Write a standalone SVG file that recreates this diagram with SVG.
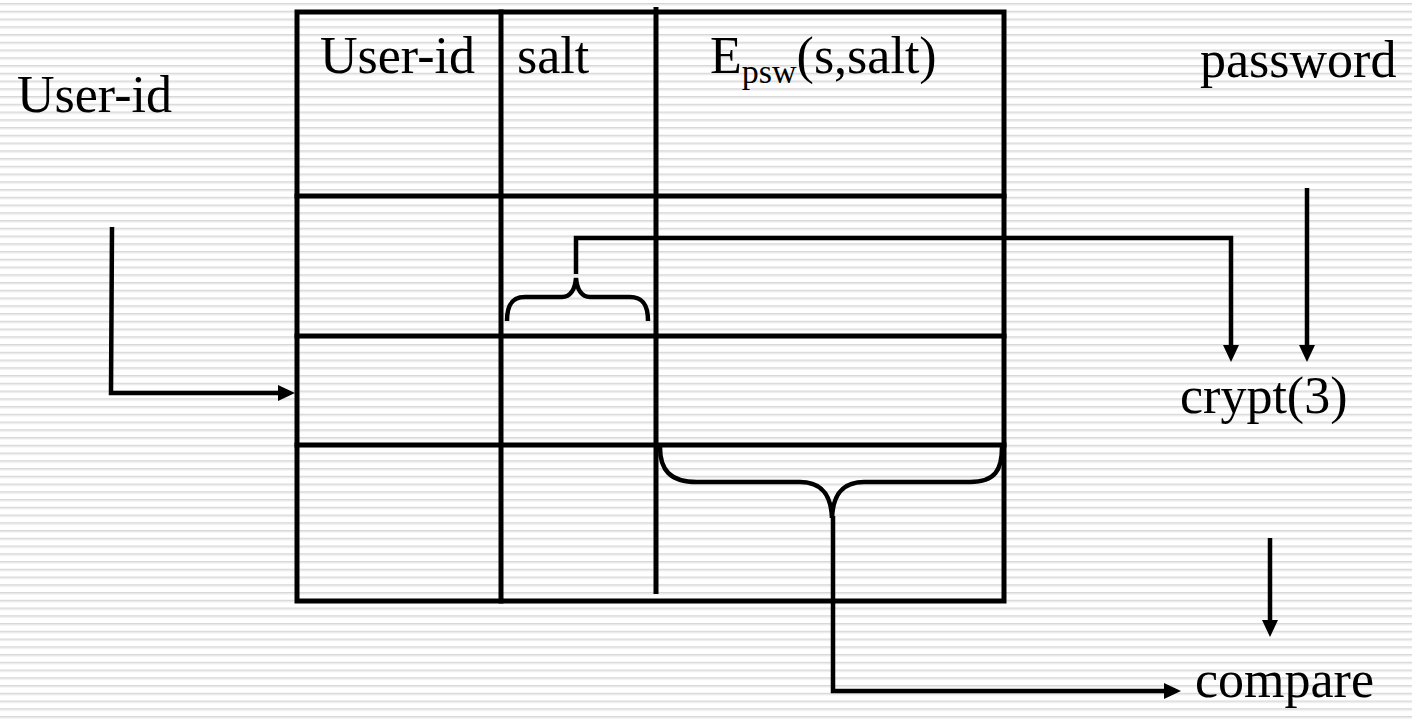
<svg xmlns="http://www.w3.org/2000/svg" width="1412" height="719" viewBox="0 0 1412 719">
  <defs>
    <!-- faint horizontal ruled background -->
    <pattern id="ruled" x="0" y="3" width="1412" height="7.75" patternUnits="userSpaceOnUse">
      <rect x="0" y="0" width="1412" height="1" fill="#d8d8d8"/>
      <rect x="0" y="1" width="1412" height="1.4" fill="#e8e8e8"/>
    </pattern>
    <marker id="arrow" markerUnits="userSpaceOnUse" markerWidth="18" markerHeight="18" refX="6" refY="9" orient="auto">
      <path d="M0,1 L17,9 L0,17 z" fill="#000"/>
    </marker>
    <style>
      .grid { stroke: #000; stroke-width: 5; fill: none; stroke-linecap: square; }
      .wire { stroke: #000; stroke-width: 4.5; fill: none; stroke-linejoin: miter; }
      .brace { stroke: #000; stroke-width: 4.5; fill: none; }
      text { font-family: 'Liberation Serif', 'DejaVu Serif', serif; font-size: 52px; fill: #000; }
      .sub { font-size: 34px; }
    </style>
  </defs>

  <rect width="1412" height="719" fill="#fff"/>
  <rect width="1412" height="719" fill="url(#ruled)"/>

  <!-- password table -->
  <g id="table">
    <rect class="grid" x="297" y="12" width="707" height="589"/>
    <line class="grid" x1="501" y1="12" x2="501" y2="601"/>
    <line class="grid" x1="656" y1="7" x2="656" y2="594" style="stroke-linecap:butt"/>
    <line class="grid" x1="297" y1="196" x2="1004" y2="196"/>
    <line class="grid" x1="297" y1="336" x2="1004" y2="336"/>
    <line class="grid" x1="297" y1="445" x2="1004" y2="445"/>
    <text x="320" y="73" font-family="Liberation Serif, serif">User-id</text>
    <text x="517" y="73" font-family="Liberation Serif, serif">salt</text>
    <text x="710" y="73" font-family="Liberation Serif, serif">E<tspan class="sub" dy="10">psw</tspan><tspan dy="-10">(s,salt)</tspan></text>
  </g>

  <g id="userid-input">
    <text x="17" y="112" font-family="Liberation Serif, serif">User-id</text>
  </g>

  <g id="password-input">
    <text x="1200" y="77" font-family="Liberation Serif, serif">password</text>
  </g>

  <g id="crypt">
    <text x="1180" y="413" font-family="Liberation Serif, serif">crypt(3)</text>
  </g>

  <g id="compare">
    <text x="1195" y="697" font-family="Liberation Serif, serif">compare</text>
  </g>

  <!-- braces selecting the salt and hash fields -->
  <g id="salt-brace">
    <path class="brace" d="M507,321 C507,305 512,297 525,297 H562 C570,297 575,290 576,278 C577,290 582,297 590,297 H630 C643,297 648,305 648,321"/>
  </g>
  <g id="hash-brace">
    <path class="brace" d="M660,447 C660,470 670,482 697,482 H800 C822,482 831,495 832,518 C833,495 842,482 864,482 H970 C995,482 1002,470 1002,447"/>
  </g>

  <g id="connectors">
    <!-- user-id lookup into the table -->
    <path class="wire" d="M112,227 L111,393 H284" marker-end="url(#arrow)"/>
    <!-- salt to crypt(3) -->
    <path class="wire" d="M576,274 V238 H1231 V351" marker-end="url(#arrow)"/>
    <!-- password to crypt(3) -->
    <path class="wire" d="M1307,188 V351" marker-end="url(#arrow)"/>
    <!-- crypt(3) result to compare -->
    <path class="wire" d="M1270,538 V626" marker-end="url(#arrow)"/>
    <!-- stored hash to compare -->
    <path class="wire" d="M833,516 V691 H1170" marker-end="url(#arrow)"/>
  </g>
</svg>
